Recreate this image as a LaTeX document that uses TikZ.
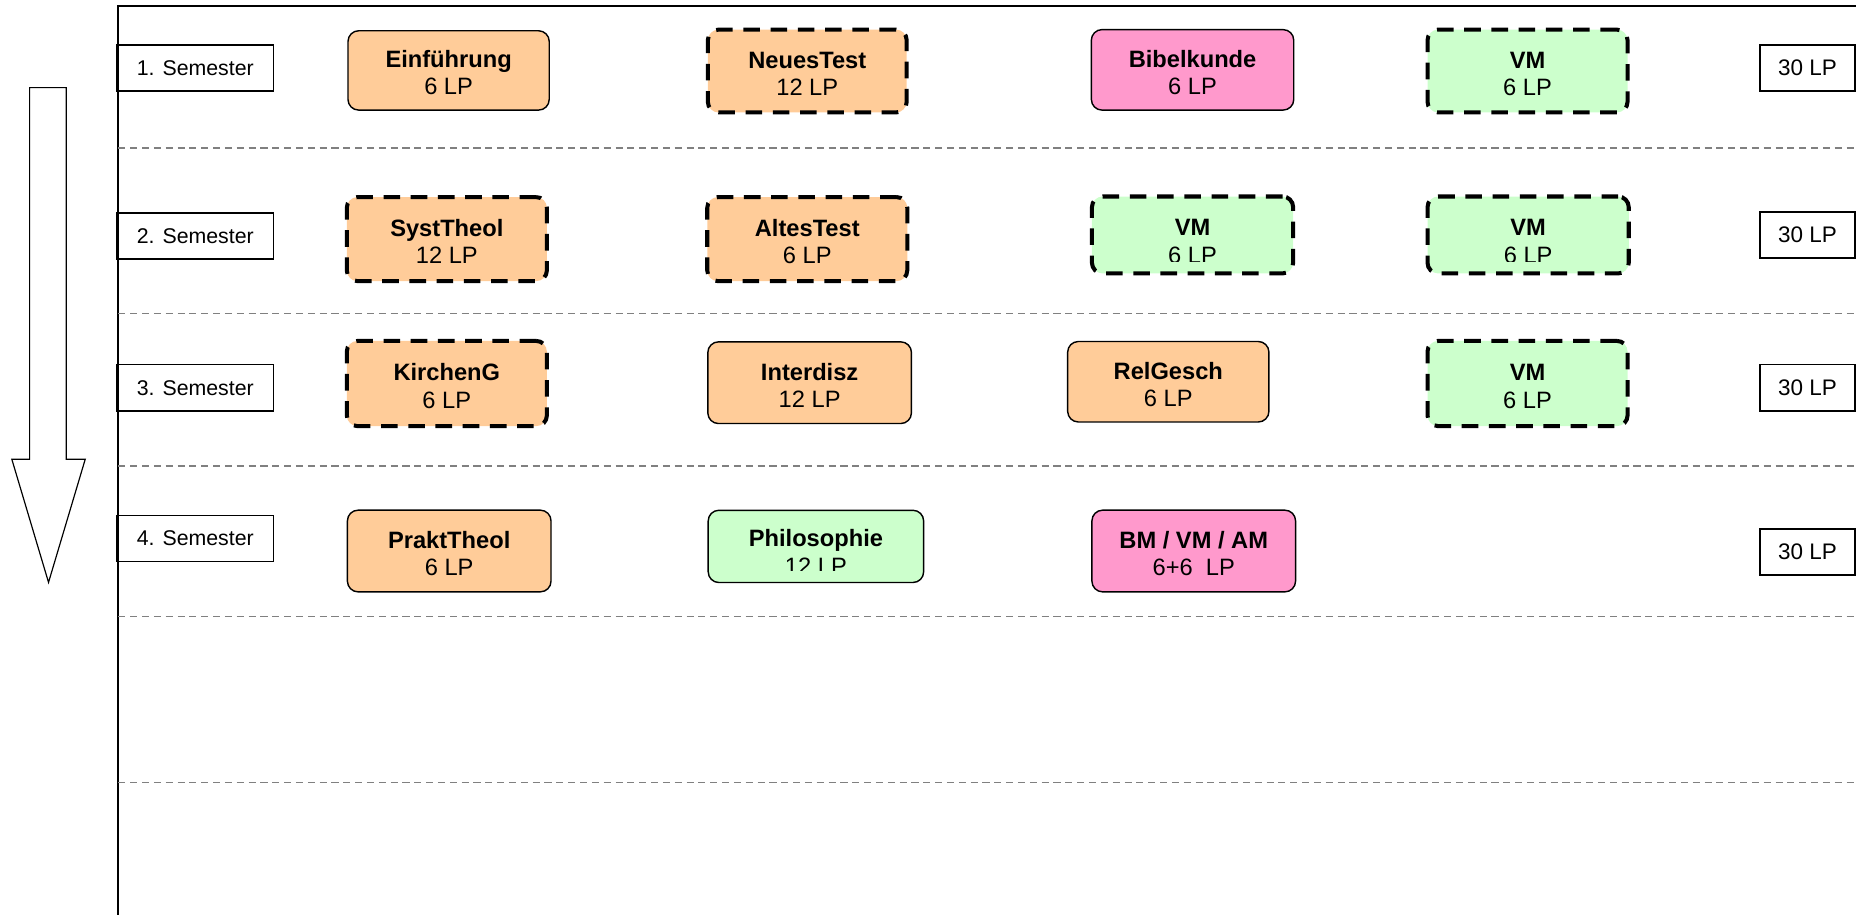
\documentclass[tikz,border=0pt]{standalone}
\usepackage{fontspec}
\setmainfont{Liberation Sans}
\definecolor{orng}{HTML}{FFCC99}
\definecolor{pnk}{HTML}{FF99CC}
\definecolor{grn}{HTML}{CCFFCC}
\definecolor{sepgray}{HTML}{808080}
\newcommand{\tstrut}{\rule{0pt}{9.3pt}}
\tikzset{
  modbox/.style={draw=black, rounded corners=4.5pt, align=center, inner sep=0pt,
    font=\fontsize{10}{11.5}\selectfont},
  solidbox/.style={modbox, line width=0.6pt},
  dashbox/.style={modbox, line width=1.7pt, dash pattern=on 7pt off 4.5pt},
  semlabel/.style={draw=black, line width=0.7pt, minimum width=66pt, minimum height=19.5pt,
    inner sep=0pt, font=\fontsize{9}{10}\selectfont},
  lplabel/.style={draw=black, line width=0.7pt, minimum width=40pt, minimum height=19.5pt,
    inner sep=0pt, font=\fontsize{9.5}{10}\selectfont},
  sepline/.style={draw=sepgray, line width=0.65pt, dash pattern=on 3pt off 2pt},
  cliptext/.style={align=center, inner sep=0pt, font=\fontsize{10}{11.5}\selectfont},
}
\begin{document}
\begin{tikzpicture}[x=0.5pt, y=-0.5pt]
\useasboundingbox (0,0) rectangle (1568,773);

% frame
\coordinate (fbl) at (100,775);
\coordinate (ftl) at (100,5);
\coordinate (ftr) at (1570,5);
\draw[line width=0.8pt] (fbl) -- (ftl) -- (ftr);

% separator lines
\foreach \yy/\nm in {125/s1, 265/s2, 393.5/s3, 521/s4, 661/s5}{
  \coordinate (\nm l) at (100,\yy);
  \coordinate (\nm r) at (1570,\yy);
  \draw[sepline] (\nm l) -- (\nm r);
}

% time arrow
\draw[line width=0.5pt, fill=white] (25,74) -- (56,74) -- (56,388) -- (72,388) -- (41,492) -- (10,388) -- (25,388) -- cycle;

% semester labels
\node[semlabel] (sem1) at (165,57.5) {1. Semester};
\node[semlabel] (sem2) at (165,199.5) {2. Semester};
\node[semlabel] (sem3) at (165,327.5) {3. Semester};
\node[semlabel] (sem4) at (165,455) {4. Semester};

% LP labels
\node[lplabel] (lp1) at (1527,57.5) {30 LP};
\node[lplabel] (lp2) at (1527,198.5) {30 LP};
\node[lplabel] (lp3) at (1527,327.5) {30 LP};
\node[lplabel] (lp4) at (1527,466.5) {30 LP};

% row 1
\node[solidbox, fill=orng, minimum width=85pt, minimum height=33.5pt] (einf) at (379,59.5) {\tstrut\textbf{Einführung}\\6 LP};
\node[dashbox, fill=orng, minimum width=84pt, minimum height=35pt] (nt) at (682,60) {\tstrut\textbf{NeuesTest}\\12 LP};
\node[solidbox, fill=pnk, minimum width=85.5pt, minimum height=34pt] (bibel) at (1007.5,59) {\tstrut\textbf{Bibelkunde}\\6 LP};
\node[dashbox, fill=grn, minimum width=84.5pt, minimum height=35pt] (vm1) at (1290.5,60) {\tstrut\textbf{VM}\\6 LP};

% row 2
\node[dashbox, fill=orng, minimum width=84.5pt, minimum height=35.5pt] (syst) at (377.5,202) {\tstrut\textbf{SystTheol}\\12 LP};
\node[dashbox, fill=orng, minimum width=84.5pt, minimum height=35.5pt] (at) at (682,202) {\tstrut\textbf{AltesTest}\\6 LP};
\node[dashbox, fill=grn, minimum width=85pt, minimum height=32.5pt] (vm2a) at (1007.5,198.5) {};
\node[dashbox, fill=grn, minimum width=85pt, minimum height=32.5pt] (vm2b) at (1291,198.5) {};
\begin{scope}
  \clip ([xshift=-2pt]vm2a.north west) rectangle ([yshift=6pt]vm2a.south east);
  \node[cliptext] (vm2at) at ([yshift=-18.65pt]vm2a.north) {\tstrut\textbf{VM}\\6 LP};
\end{scope}
\begin{scope}
  \clip ([xshift=-2pt]vm2b.north west) rectangle ([yshift=6pt]vm2b.south east);
  \node[cliptext] (vm2bt) at ([yshift=-18.65pt]vm2b.north) {\tstrut\textbf{VM}\\6 LP};
\end{scope}

% row 3
\node[dashbox, fill=orng, minimum width=84.5pt, minimum height=36pt] (kg) at (377.5,324) {\tstrut\textbf{KirchenG}\\6 LP};
\node[solidbox, fill=orng, minimum width=86pt, minimum height=34.5pt] (inter) at (684,323.3) {\tstrut\textbf{Interdisz}\\12 LP};
\node[solidbox, fill=orng, minimum width=85pt, minimum height=34pt] (relg) at (987,322.5) {\tstrut\textbf{RelGesch}\\6 LP};
\node[dashbox, fill=grn, minimum width=84.5pt, minimum height=36pt] (vm3) at (1290.5,324) {\tstrut\textbf{VM}\\6 LP};

% row 4
\node[solidbox, fill=orng, minimum width=86pt, minimum height=34.5pt] (prakt) at (379.5,465.5) {\tstrut\textbf{PraktTheol}\\6 LP};
\node[solidbox, fill=grn, minimum width=91pt, minimum height=30.5pt] (philo) at (689.3,461.6) {};
\begin{scope}
  \clip ([xshift=-2pt]philo.north west) rectangle ([yshift=5.5pt]philo.south east);
  \node[cliptext] (philot) at ([yshift=-16.9pt]philo.north) {\tstrut\textbf{Philosophie}\\12 LP};
\end{scope}
\node[solidbox, fill=pnk, minimum width=86pt, minimum height=34.5pt] (bm) at (1008.5,465.5) {\tstrut\textbf{BM / VM / AM}\\6+6 \ LP};
\end{tikzpicture}
\end{document}
